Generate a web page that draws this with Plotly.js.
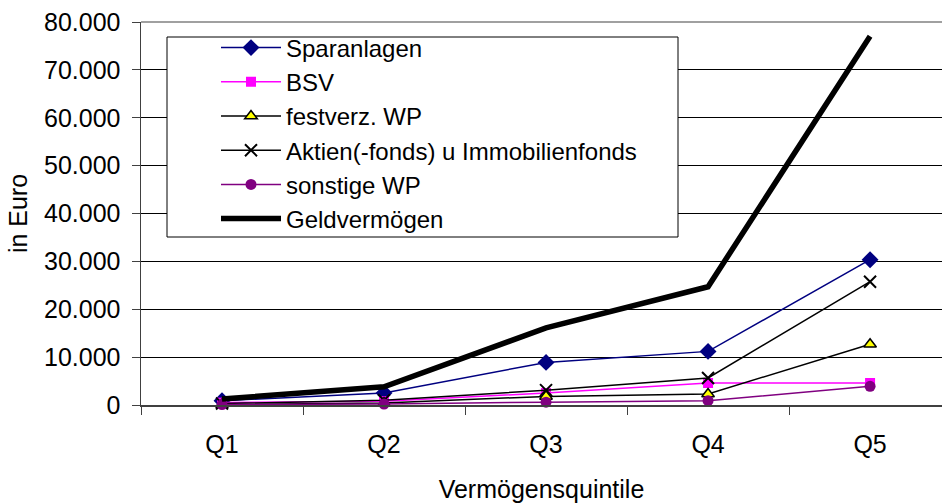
<!DOCTYPE html>
<html>
<head>
<meta charset="utf-8">
<script src="https://cdn.plot.ly/plotly-3.0.1.min.js"></script>
<style>
html,body{margin:0;padding:0;background:#fff;}
#chart{width:942px;height:503px;}
</style>
</head>
<body>
<div id="chart"></div>
<script>
const categories = ['Q1', 'Q2', 'Q3', 'Q4', 'Q5'];
const sparanlagen = [900, 2500, 8900, 11200, 30350];
const bsv = [500, 800, 2500, 4600, 4600];
const festverzWP = [100, 400, 1800, 2300, 12700];
const aktien = [300, 1000, 3100, 5650, 25750];
const sonstigeWP = [100, 200, 600, 900, 3900];
const geldvermoegen = [1250, 3800, 16100, 24700, 77000];
const yTicks = [0, 10000, 20000, 30000, 40000, 50000, 60000, 70000, 80000];

const FONT = 'Liberation Sans, Arial, sans-serif';
const FS = 25;

const traces = [
  {name: 'Sparanlagen', y: sparanlagen, line: {color: '#000080', width: 1.5},
   marker: {symbol: 'diamond', size: 13, color: '#000080'}},
  {name: 'BSV', y: bsv, line: {color: '#FF00FF', width: 1.5},
   marker: {symbol: 'square', size: 10, color: '#FF00FF'}},
  {name: 'festverz. WP', y: festverzWP, line: {color: '#000000', width: 1.5},
   marker: {symbol: 'triangle-up', size: 11, color: '#FFFF00', line: {color: '#000000', width: 1.5}}},
  {name: 'Aktien(-fonds) u Immobilienfonds', y: aktien, line: {color: '#000000', width: 1.5},
   marker: {symbol: 'x-thin', size: 12, color: '#000000', line: {color: '#000000', width: 2}}},
  {name: 'sonstige WP', y: sonstigeWP, line: {color: '#800080', width: 1.5},
   marker: {symbol: 'circle', size: 11, color: '#800080'}},
  {name: 'Geldvermögen', y: geldvermoegen, line: {color: '#000000', width: 5.5},
   mode: 'lines'}
].map(t => Object.assign({type: 'scatter', mode: 'lines+markers', x: categories, cliponaxis: false}, t));

const layout = {
  width: 942, height: 503,
  margin: {l: 141, r: 0, t: 22, b: 98, pad: 0},
  paper_bgcolor: '#ffffff', plot_bgcolor: '#ffffff',
  separators: ',.',
  font: {family: FONT, size: FS, color: '#000000'},
  showlegend: true,
  legend: {
    x: (216 - 141) / 801, y: (405 - 25.5) / 383, xanchor: 'left', yanchor: 'top',
    bgcolor: 'rgba(0,0,0,0)', borderwidth: 0,
    font: {family: FONT, size: 24, color: '#000000'},
    tracegroupgap: 0, itemwidth: 60
  },
  xaxis: {
    type: 'category', range: [-0.5, 4.444],
    tickson: 'boundaries', ticks: 'outside', ticklen: 8, tickcolor: '#404040', tickwidth: 1,
    showline: true, linecolor: '#404040', linewidth: 1.5,
    showgrid: false, zeroline: false,
    tickfont: {family: FONT, size: FS, color: '#000000'},
    ticklabelstandoff: 16,
    title: {text: 'Vermögensquintile', font: {family: FONT, size: FS, color: '#000000'}, standoff: 26}
  },
  yaxis: {
    range: [0, 80000], tickvals: yTicks, tickformat: ',d',
    ticks: 'outside', ticklen: 8, tickcolor: '#404040', tickwidth: 1,
    showline: true, linecolor: '#404040', linewidth: 1.5,
    showgrid: true, gridcolor: '#000000', gridwidth: 1, zeroline: false,
    tickfont: {family: FONT, size: FS, color: '#000000'},
    ticklabelstandoff: 6,
    title: {text: 'in Euro', font: {family: FONT, size: FS, color: '#000000'}, standoff: 9}
  },
  shapes: [
    {type: 'line', xref: 'paper', yref: 'paper', x0: 0, x1: 1, y0: 1, y1: 1,
     line: {color: '#a0a0a0', width: 2}},
    {type: 'rect', xref: 'paper', yref: 'paper', layer: 'above',
     x0: (167 - 141) / 801, x1: (678 - 141) / 801, y0: (405 - 237) / 383, y1: (405 - 37) / 383,
     fillcolor: '#ffffff', line: {color: '#000000', width: 1}}
  ]
};

Plotly.newPlot('chart', traces, layout, {displayModeBar: false, staticPlot: true});
</script>
</body>
</html>
